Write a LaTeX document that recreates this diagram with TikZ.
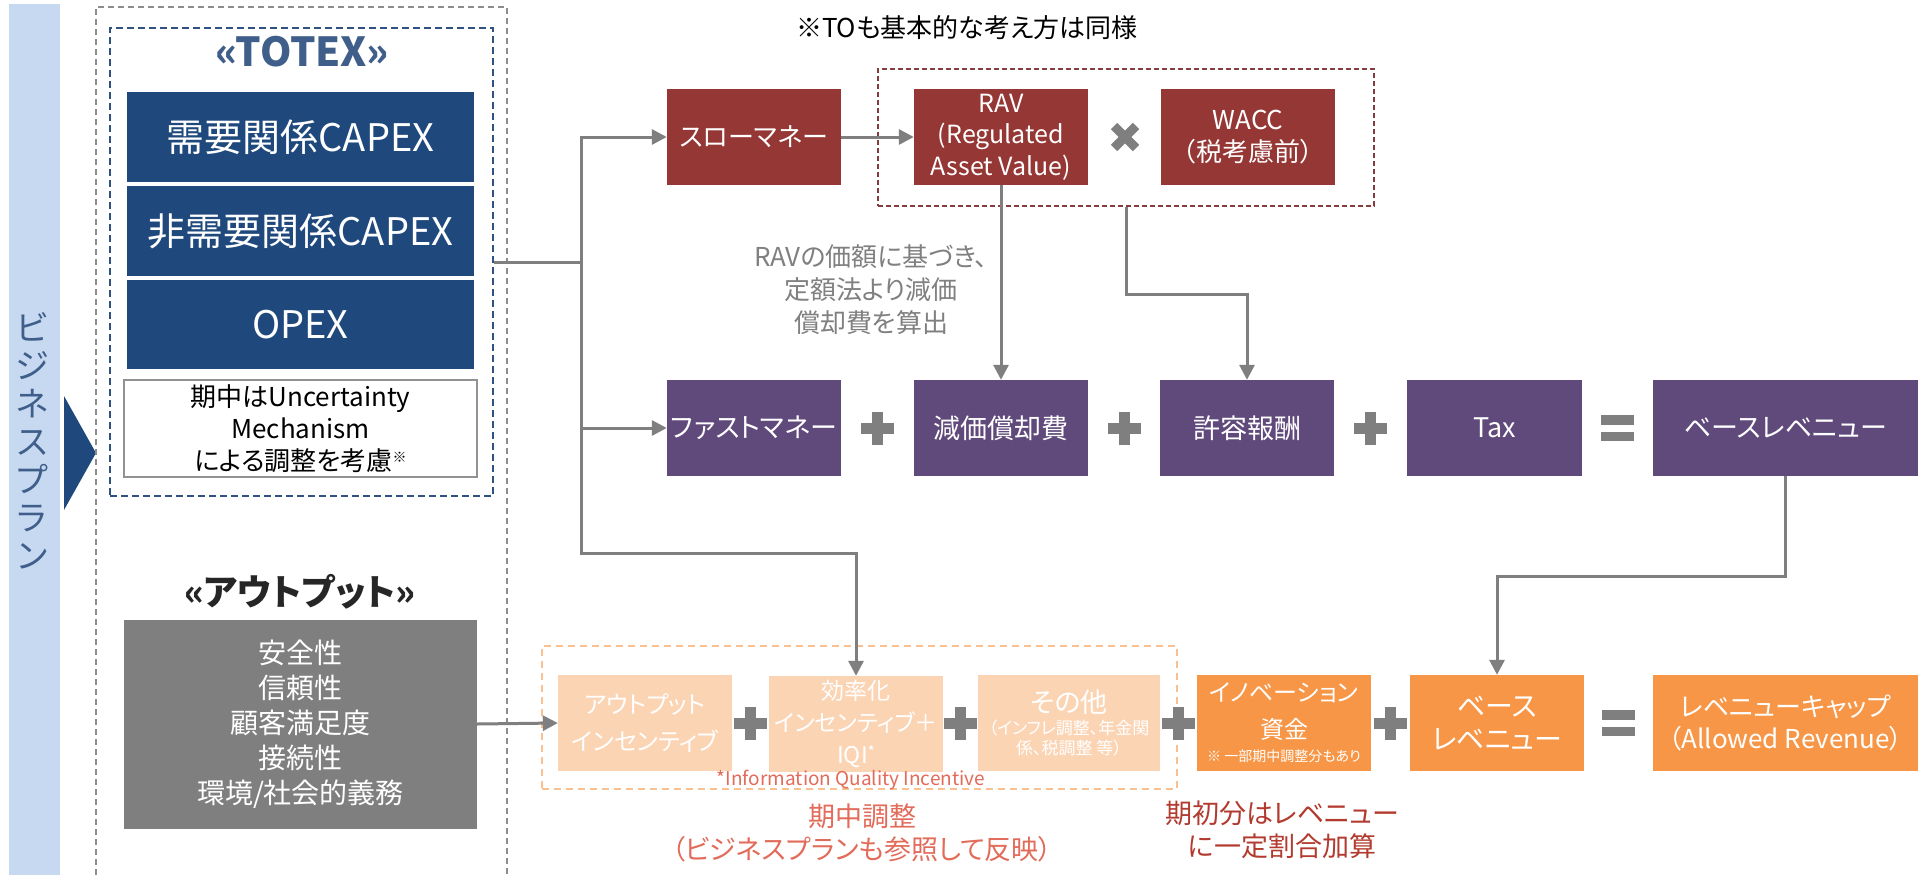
\documentclass[tikz,border=0pt]{standalone}
\usepackage{fontspec}
\setmainfont{Noto Sans CJK JP}[RawFeature=+palt]
\usetikzlibrary{arrows.meta,calc}
\newcommand\fsz[2]{\fontsize{#1}{#2}\selectfont}
\definecolor{dblue}{HTML}{1F497D}
\definecolor{tblue}{HTML}{3F5F8A}
\definecolor{dred}{HTML}{953735}
\definecolor{purp}{HTML}{604A7B}
\definecolor{orng}{HTML}{F79646}
\definecolor{peach}{HTML}{FBD4B4}
\definecolor{cgray}{HTML}{7F7F7F}
\definecolor{stripc}{HTML}{C6D9F1}
\definecolor{salmon}{HTML}{E26B5A}
\definecolor{brick}{HTML}{B23A2E}
\definecolor{ltxt}{HTML}{808080}
\definecolor{reddashc}{HTML}{843C3C}
\definecolor{orgdashc}{HTML}{FAC090}
\definecolor{bluedashc}{HTML}{2F5283}
\definecolor{outdashc}{HTML}{8C8C8C}
\begin{document}
\begin{tikzpicture}[x=1pt,y=-1pt,
  box/.style={draw=none, minimum width=174, minimum height=96, inner sep=1, align=center, text=white, font={\fsz{26}{32}}},
  capex/.style={box, fill=dblue, minimum width=347, minimum height=90, font={\fsz{38}{42}}},
  redbox/.style={box, fill=dred},
  purbox/.style={box, fill=purp, font={\fsz{27}{32}}},
  orbox/.style={box, fill=orng},
  pchbox/.style={box, fill=peach},
  line/.style={draw=cgray, line width=3},
  arr/.style={line, -{Triangle[length=15pt,width=15pt]}},
  outerdash/.style={draw=outdashc, line width=1.6, dash pattern=on 6pt off 4pt},
  bluedash/.style={draw=bluedashc, line width=2, dash pattern=on 7pt off 4pt},
  reddash/.style={draw=reddashc, line width=2, dash pattern=on 5pt off 3pt},
  orgdash/.style={draw=orgdashc, line width=2, dash pattern=on 7pt off 5pt},
  plussym/.pic={\fill[cgray] (-16.5,-5.5) rectangle (16.5,5.5); \fill[cgray] (-5.5,-16.5) rectangle (5.5,16.5);},
  eqsym/.pic={\fill[cgray] (-16.5,-13) rectangle (16.5,-3.5); \fill[cgray] (-16.5,3.5) rectangle (16.5,13);}
]
\useasboundingbox (0,0) rectangle (1921,875);
\fill[white] (0,0) rectangle (1921,875);

% left strip
\fill[stripc] (9,4) rectangle (60,875);
\node[text=tblue, align=center, font={\fsz{34}{38}}, inner sep=0] (vt) at (32,441) {ビ\\ジ\\ネ\\ス\\プ\\ラ\\ン};
\fill[dblue] (64,396) -- (96,453) -- (64,510) -- cycle;

% outer dashed frame
\draw[outerdash] (96,875) -- (96,7) -- (507,7) -- (507,875);

% TOTEX group
\node[bluedash, minimum width=383, minimum height=468] (totex) at (301.5,262) {};
\node[font={\bfseries\fsz{40}{40}}, text=tblue] (totext) at (302,52) {«TOTEX»};
\node[capex] (capexA) at (300.5,137) {需要関係CAPEX};
\node[capex] (capexB) at (300.5,231) {非需要関係CAPEX};
\node[capex, minimum height=89] (opex) at (300.5,324.5) {OPEX};
\node[box, draw=cgray!85, line width=2, fill=white, text=black, minimum width=353, minimum height=97, font={\fsz{26}{32}}] (unc) at (300.5,428.5)
  {期中はUncertainty\\Mechanism\\による調整を考慮\raisebox{8pt}{\fsz{14}{14}※}};

% output group
\node[font={\bfseries\fsz{36}{40}}, text=black!85] (outtitle) at (300,592) {«アウトプット»};
\node[box, fill=cgray, minimum width=353, minimum height=209, font={\fsz{28}{35}}] (outgray) at (300.5,724)
  {安全性\\信頼性\\顧客満足度\\接続性\\環境/社会的義務};

% top note
\node[font={\fsz{26}{28}}] (note) at (967,28) {※TOも基本的な考え方は同様};

% red row
\node[reddash, minimum width=496, minimum height=137] (ravgrp) at (1126,137.5) {};
\node[redbox] (slow) at (754,137) {スローマネー};
\node[redbox, font={\fsz{25}{31.5}}] (rav) at (1001,137) {RAV\\(Regulated\\Asset Value)};
\node[redbox] (wacc) at (1248,137) {WACC\\（税考慮前）};
\draw[cgray, line width=9] (1114,126) -- (1136,148) (1114,148) -- (1136,126);

\node[font={\fsz{26}{33}}, text=ltxt, align=center] (deptext) at (871,290) {RAVの価額に基づき、\\定額法より減価\\償却費を算出};

% purple row
\node[purbox] (fast) at (754,428) {ファストマネー};
\node[purbox] (dep) at (1001,428) {減価償却費};
\node[purbox] (ret) at (1247,428) {許容報酬};
\node[purbox, minimum width=175] (tax) at (1494.5,428) {Tax};
\node[purbox, minimum width=265] (base) at (1785.5,428) {ベースレベニュー};
\pic at ($(fast.east)!.5!(dep.west)$) {plussym};
\pic at ($(dep.east)!.5!(ret.west)$) {plussym};
\pic at ($(ret.east)!.5!(tax.west)$) {plussym};
\pic at ($(tax.east)!.5!(base.west)$) {eqsym};

% bottom row
\node[orgdash, minimum width=635, minimum height=143] (midgrp) at (859.5,717.5) {};
\node[pchbox, font={\fsz{24}{37}}] (outp) at (645,723) {アウトプット\\インセンティブ};
\node[pchbox, font={\fsz{23}{32}}] (eff) at (856,724) {効率化\\インセンティブ＋\\IQI\raisebox{6pt}{\fsz{15}{15}*}};
\node[pchbox, minimum width=182, font={\fsz{17}{20}}] (other) at (1069,723) {\fsz{27}{30}その他\\[2pt]\fsz{17}{20}（インフレ調整、年金関\\\fsz{17}{20}係、税調整 等）};
\node[orbox, font={\fsz{24}{37}}] (inno) at (1284,723) {イノベーション\\資金\\[-14pt]\fsz{14}{18}※ 一部期中調整分もあり};
\node[orbox, font={\fsz{28}{33}}] (base2) at (1497,723) {ベース\\レベニュー};
\node[orbox, minimum width=265, font={\fsz{26}{32}}] (cap) at (1785.5,723) {レベニューキャップ\\（Allowed Revenue）};
\pic at ($(outp.east)!.5!(eff.west)$) {plussym};
\pic at ($(eff.east)!.5!(other.west)$) {plussym};
\pic at ($(other.east)!.5!(inno.west)$) {plussym};
\pic at ($(inno.east)!.5!(base2.west)$) {plussym};
\pic at ($(base2.east)!.5!(cap.west)$) {eqsym};

\node[font={\fsz{19}{20}}, text=salmon] (iqinote) at (851,780) {*Information Quality Incentive};
\node[font={\fsz{27}{33}}, text=salmon, align=center] (midadj) at (862,833) {期中調整\\（ビジネスプランも参照して反映）};
\node[font={\fsz{27}{33}}, text=brick, align=center] (initadj) at (1282,830) {期初分はレベニュー\\に一定割合加算};

% connectors
\coordinate (J) at (581,262);
\draw[line] (totex.east) -- (J);
\draw[arr] (J) |- (slow.west);
\draw[arr] (J) |- (fast.west);
\draw[arr] (J) -- ++(0,291) -| (eff.north);
\draw[arr] (slow.east) -- (rav.west);
\draw[arr] (rav.south) -- (dep.north);
\draw[arr] (ravgrp.south) -- ++(0,87) -| (ret.north);
\draw[arr] (base.south) -- ++(0,100) -| (base2.north);
\draw[arr] (outgray.east) -- (outp.west);
\end{tikzpicture}
\end{document}
